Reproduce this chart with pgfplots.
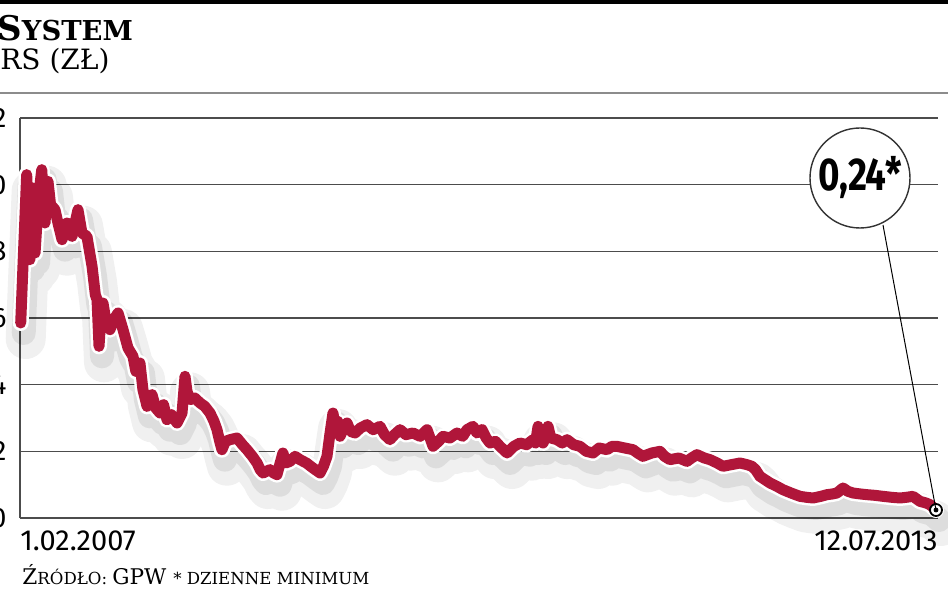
\documentclass[border=0pt]{standalone}
\usepackage{fontspec}
\usepackage{pgfplots}
\usepackage{pgfplotstable}
\pgfplotsset{compat=1.18}
\setmainfont{DejaVu Serif}
\newfontfamily\numfont{Fira Sans}
\newfontfamily\bubfont[FakeStretch=0.8]{Fira Sans}
\definecolor{wine}{RGB}{176,22,58}

\pgfplotstableread{
x y
2007.090 5.85
2007.110 8.00
2007.132 10.30
2007.145 9.00
2007.155 7.75
2007.176 9.90
2007.191 7.95
2007.215 9.60
2007.238 10.45
2007.250 9.60
2007.261 8.85
2007.282 10.10
2007.300 9.40
2007.331 9.25
2007.355 8.80
2007.381 8.35
2007.416 8.85
2007.451 8.45
2007.475 8.90
2007.493 9.25
2007.521 8.55
2007.556 8.45
2007.592 7.55
2007.615 6.70
2007.627 6.55
2007.641 5.15
2007.655 6.10
2007.669 6.45
2007.690 5.90
2007.718 5.65
2007.745 5.95
2007.775 6.15
2007.810 5.65
2007.845 5.10
2007.880 4.85
2007.900 4.40
2007.929 4.65
2007.950 3.85
2007.979 3.35
2008.014 3.70
2008.040 3.30
2008.070 3.15
2008.095 3.40
2008.119 2.95
2008.150 3.10
2008.190 2.85
2008.225 3.15
2008.246 4.25
2008.260 3.80
2008.281 3.55
2008.315 3.60
2008.352 3.45
2008.385 3.35
2008.422 3.15
2008.450 2.90
2008.471 2.65
2008.490 2.30
2008.506 2.05
2008.530 2.30
2008.563 2.35
2008.612 2.40
2008.650 2.20
2008.682 2.05
2008.720 1.85
2008.753 1.65
2008.775 1.45
2008.795 1.35
2008.844 1.45
2008.870 1.35
2008.893 1.30
2008.935 1.95
2008.955 1.65
2008.985 1.70
2009.020 1.85
2009.055 1.75
2009.100 1.65
2009.146 1.50
2009.196 1.35
2009.220 1.55
2009.245 1.85
2009.265 2.50
2009.287 3.15
2009.300 2.80
2009.320 2.90
2009.337 2.45
2009.360 2.70
2009.386 2.85
2009.410 2.60
2009.442 2.55
2009.480 2.70
2009.526 2.80
2009.570 2.65
2009.618 2.75
2009.650 2.50
2009.688 2.35
2009.720 2.50
2009.759 2.65
2009.800 2.50
2009.850 2.55
2009.900 2.45
2009.949 2.65
2009.991 2.15
2010.030 2.30
2010.061 2.45
2010.110 2.40
2010.160 2.55
2010.200 2.45
2010.230 2.65
2010.272 2.75
2010.300 2.55
2010.336 2.65
2010.365 2.40
2010.392 2.25
2010.430 2.30
2010.462 2.15
2010.512 1.95
2010.560 2.15
2010.603 2.25
2010.650 2.20
2010.695 2.35
2010.712 2.25
2010.730 2.75
2010.745 2.35
2010.765 2.25
2010.785 2.45
2010.800 2.75
2010.820 2.40
2010.863 2.35
2010.900 2.25
2010.934 2.35
2010.980 2.20
2011.025 2.15
2011.070 2.00
2011.117 1.95
2011.160 2.10
2011.215 2.05
2011.250 2.15
2011.285 2.15
2011.340 2.10
2011.398 2.05
2011.430 1.95
2011.468 1.85
2011.530 1.95
2011.588 2.00
2011.620 1.85
2011.658 1.75
2011.720 1.80
2011.778 1.70
2011.810 1.80
2011.848 1.90
2011.900 1.80
2011.940 1.75
2011.990 1.65
2012.031 1.55
2012.090 1.60
2012.151 1.65
2012.200 1.60
2012.235 1.55
2012.260 1.45
2012.291 1.25
2012.362 1.05
2012.410 0.95
2012.453 0.85
2012.510 0.75
2012.573 0.65
2012.620 0.62
2012.665 0.60
2012.720 0.65
2012.763 0.70
2012.800 0.72
2012.833 0.75
2012.876 0.90
2012.910 0.80
2012.946 0.75
2013.000 0.72
2013.044 0.70
2013.100 0.68
2013.157 0.65
2013.220 0.62
2013.277 0.60
2013.320 0.62
2013.368 0.65
2013.417 0.50
2013.460 0.45
2013.488 0.40
2013.530 0.24
}\kurs

\begin{document}
\begin{tikzpicture}[x=1pt,y=1pt]
\useasboundingbox (0pt,0pt) rectangle (474pt,-296.5pt);
\clip (0pt,0pt) rectangle (474pt,-296.5pt);
\fill[black] (0pt,0pt) rectangle (474pt,-2.2pt);
\draw[black!45, line width=0.8pt] (0pt,-46.5pt) -- (474pt,-46.5pt);
\node[anchor=base west, inner sep=0pt] at (-1.5pt,-20.5pt)
  {\bfseries\fontsize{17}{17}\selectfont S\fontsize{13.7}{13.7}\selectfont YSTEM};
\node[anchor=base west, inner sep=0pt] at (0pt,-35pt)
  {\fontsize{14}{14}\selectfont RS (ZŁ)};
\begin{axis}[
  at={(10pt,-259pt)}, anchor=south west,
  scale only axis, width=459pt, height=200pt,
  xmin=2007.085, xmax=2013.544, ymin=0, ymax=12,
  axis x line=bottom, axis y line=left,
  axis line style={-, line width=0.8pt, black!70},
  ytick={0,2,...,12},
  ymajorgrids, grid style={line width=0.8pt, black!70},
  major tick length=0pt,
  /pgf/number format/assume math mode=true,
  yticklabel style={font=\numfont\fontsize{14}{14}\selectfont, anchor=east, inner sep=0pt, xshift=-6.5pt},
  xtick={2007.085}, xticklabels={1.02.2007},
  xticklabel style={font=\numfont\fontsize{14.5}{14.5}\selectfont, anchor=north west, inner sep=0pt, yshift=-6pt},
  extra x ticks={2013.544}, extra x tick labels={12.07.2013},
  extra x tick style={xticklabel style={anchor=north east}},
  clip=false,
]
\addplot[black, opacity=0.06, line width=20pt, line join=round, line cap=round, xshift=2.5pt, yshift=-8pt] table {\kurs};
\addplot[black, opacity=0.08, line width=12pt, line join=round, line cap=round, xshift=1.5pt, yshift=-5pt] table {\kurs};
\addplot[white, line width=8pt, line join=round, line cap=round] table {\kurs};
\addplot[wine, line width=5.5pt, line join=round, line cap=round] table {\kurs};
\addplot[only marks, mark=*, mark size=3pt, mark options={draw=black, fill=white, line width=0.9pt}] coordinates {(2013.53,0.24)};
\addplot[only marks, mark=*, mark size=1pt, black] coordinates {(2013.53,0.24)};
\coordinate (endpt) at (axis cs:2013.53,0.24);
\end{axis}
\draw[black, line width=0.5pt] (endpt) -- (441.5pt,-112.5pt);
\node[circle, draw=black!80, line width=0.7pt, fill=white, minimum size=50pt, inner sep=0pt,
  font=\bubfont\bfseries\fontsize{23}{23}\selectfont] at (430pt,-89pt) {0,24*};
\node[anchor=base west, inner sep=0pt] at (11pt,-292pt)
  {\fontsize{10.8}{10.8}\selectfont Ź\fontsize{8.3}{8.3}\selectfont RÓDŁO: \fontsize{10.8}{10.8}\selectfont GPW \fontsize{8.3}{8.3}\selectfont * DZIENNE MINIMUM};
\end{tikzpicture}
\end{document}
